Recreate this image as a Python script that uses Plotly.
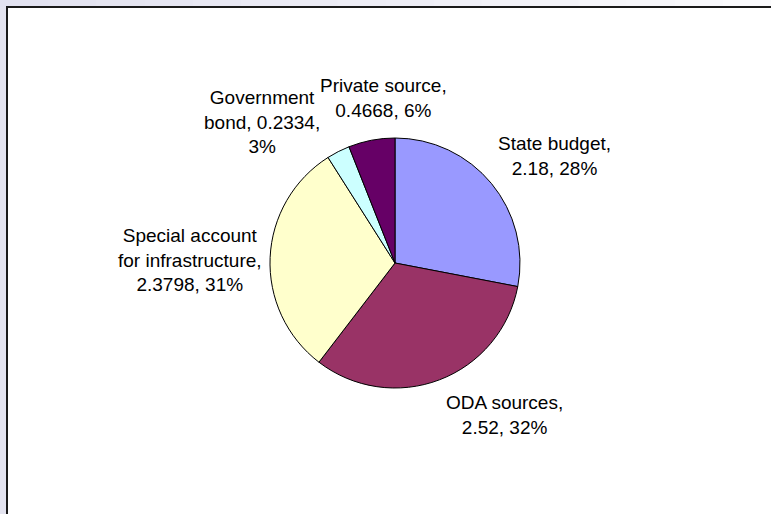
import plotly.graph_objects as go

# ---- data ----
names = ["State budget", "ODA sources", "Special account<br>for infrastructure", "Government<br>bond", "Private source"]
values = [2.18, 2.52, 2.3798, 0.2334, 0.4668]
colors = ["#9999FF", "#993366", "#FFFFCC", "#CCFFFF", "#660066"]
sep_after_name = [",<br>", ",<br>", ",<br>", ", ", ",<br>"]
sep_after_value = [", ", ", ", ", ", ",<br>", ", "]

total = sum(values)
pcts = [round(v / total * 100) for v in values]
label_texts = [f"{n}{s1}{v:g}{s2}{p}%" for n, s1, v, s2, p in zip(names, sep_after_name, values, sep_after_value, pcts)]

W, H = 771, 514
# label block centres (pixels)
label_pos = [(554, 156), (504, 415), (190, 260), (262, 122), (383, 98)]

def px(x):
    return x / W

def py(y):
    return 1 - y / H

fig = go.Figure()
fig.add_trace(go.Pie(
    labels=[n.replace("<br>", " ") for n in names],
    values=values,
    sort=False,
    direction="clockwise",
    rotation=0,
    marker=dict(colors=colors, line=dict(color="#000000", width=1)),
    textinfo="none",
    showlegend=False,
    domain=dict(x=[px(270), px(520)], y=[py(388), py(138)]),
))

shapes = []
# top gradient strip
n_seg = 16
for i in range(n_seg):
    t = i / (n_seg - 1)
    r = int(0xE2 + (0xFA - 0xE2) * t)
    g = int(0xE2 + (0xFA - 0xE2) * t)
    b = int(0xF0 + (0xFC - 0xF0) * t)
    shapes.append(dict(type="rect", xref="paper", yref="paper",
                       x0=i / n_seg, x1=(i + 1) / n_seg + 0.002, y0=py(7), y1=1.01,
                       fillcolor=f"rgb({r},{g},{b})", line=dict(width=0), layer="below"))
# white chart area with dark border
shapes.append(dict(type="rect", xref="paper", yref="paper",
                   x0=px(7), x1=1.05, y0=-0.05, y1=py(7),
                   fillcolor="#FFFFFF", line=dict(color="#1A1A1A", width=2), layer="below"))

annotations = []
for txt, (cx, cy) in zip(label_texts, label_pos):
    annotations.append(dict(x=px(cx), y=py(cy), xref="paper", yref="paper",
                            text=txt, showarrow=False, align="center",
                            xanchor="center", yanchor="middle",
                            font=dict(family="Liberation Sans, Arial, sans-serif", size=19, color="#000000")))

fig.update_layout(
    width=W, height=H,
    margin=dict(l=0, r=0, t=0, b=0),
    paper_bgcolor="#E4E4F0",
    plot_bgcolor="#FFFFFF",
    shapes=shapes,
    annotations=annotations,
)

fig.write_html("out.html")
